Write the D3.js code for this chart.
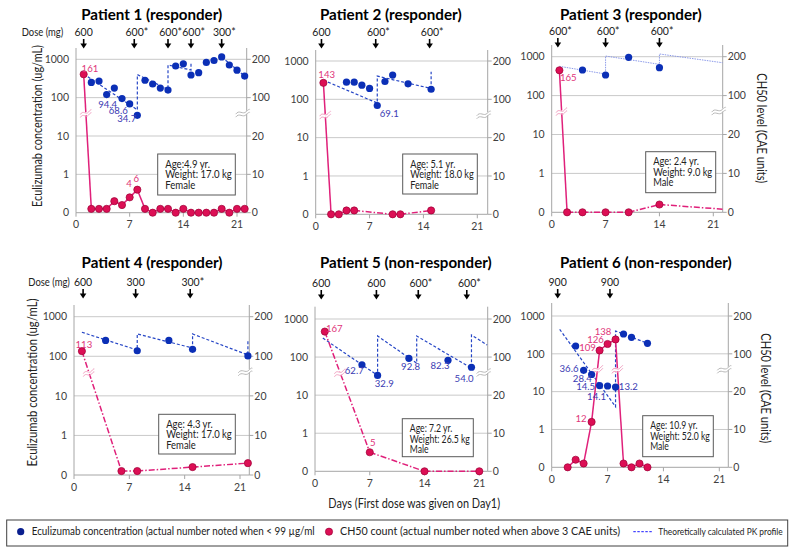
<!DOCTYPE html>
<html><head><meta charset="utf-8">
<script src="https://cdn.jsdelivr.net/npm/d3@7"></script>
<style>
body{margin:0;background:#fff;}
svg{display:block;font-family:Lato,"Liberation Sans",sans-serif;}
</style></head><body>
<svg id="chart" width="800" height="552"></svg>
<script>
// ================= DATA =================
const titles = ["Patient 1 (responder)","Patient 2 (responder)","Patient 3 (responder)",
                "Patient 4 (responder)","Patient 5 (non-responder)","Patient 6 (non-responder)"];
const leftTicks = [1000,100,10,1,0.1];
const leftTickLabels = ["1000","100","10","1","0"];
const rightTicks = [200,100,20,10,0];
const rightTickLabels = ["200","100","20","10","0"];
const xTicks = [0,7,14,21];

// Patient 1
const ecuDays1 = [2,3,4,5,6,7,8,9,10,11,12,13,14,15,16,17,18,19,20,21,22];
const ecuValues1 = [250,270,120,178,94.4,68.6,34.7,284,227,178,158,668,760,390,449,830,930,1150,710,520,365];
const chDays1 = [1,2,3,4,5,6,7,8,9,10,11,12,13,14,15,16,17,18,19,20,21,22];
const chValues1 = [161,1,1,1,3,2,4,6,1,0,1,1,0,1,0,0,0,0,1,0,1,1];
const pkDays1 = [1,8,8,12,12,15,15,null,19,22];
const pkValues1 = [414,48,400,165,710,526,815,null,1150,365];
const doseDays1 = [1,7.6,12,15,19];
const doseLabels1 = ["600","600*","600*","600*","300*"];
const info1 = ["Age:4.9 yr.","Weight: 17.0 kg","Female"];
const ecuLabelDays1 = [6,7,8];
const chLabelDays1 = [1,7,8];

// Patient 2
const ecuDays2 = [4,5,6,7,8,9,10,12,15];
const ecuValues2 = [280,280,234,192,69.1,292,428,254,183];
const chDays2 = [1,2,3,4,5,10,11,15];
const chValues2 = [143,0,0,1,1,0,0,1];
const pkDays2 = [1,8,8,15,15];
const pkValues2 = [316,80,403,192,524];
const doseDays2 = [0.75,7.8,14.8];
const doseLabels2 = ["600","600*","600*"];
const info2 = ["Age: 5.1 yr.","Weight: 18.0 kg","Female"];
const ecuLabelDays2 = [8];
const chLabelDays2 = [1];

// Patient 3
const ecuDays3 = [4,7,10,14];
const ecuValues3 = [455,339,966,523];
const chDays3 = [1,2,4,7,10,14];
const chValues3 = [165,0,0,0,0,2];
const chExtDays3 = [22.2];
const chExtValues3 = [0.8];
const pkDays3 = [1,7,7,14,14,22.2];
const pkValues3 = [566,359,1040,637,1175,700];
const doseDays3 = [0.8,7,14];
const doseLabels3 = ["600*","600*","600*"];
const info3 = ["Age: 2.4 yr.","Weight: 9.0 kg","Male"];
const ecuLabelDays3 = [];
const chLabelDays3 = [1];

// Patient 4
const ecuDays4 = [4,8,12,15,22];
const ecuValues4 = [252,138,252,150,102];
const chDays4 = [1,6,8,15,22];
const chValues4 = [113,1,1,2,3];
const pkDays4 = [1,8,8,15,15,22,22];
const pkValues4 = [404,144,366,162,366,108,257];
const doseDays4 = [1.15,7.8,14.7];
const doseLabels4 = ["600","300","300*"];
const info4 = ["Age: 4.3 yr.","Weight: 17.0 kg","Female"];
const ecuLabelDays4 = [];
const chLabelDays4 = [1];

// Patient 5
const ecuDays5 = [6,8,12,17,20];
const ecuValues5 = [62.7,32.9,92.8,82.3,54.0];
const chDays5 = [1.25,7,14,21];
const chValues5 = [167,5,0,0];
const pkDays5 = [1,8,8,13,13,20,20,22];
const pkValues5 = [316,33,358,69,358,51,380,208];
const doseDays5 = [0.8,7.85,13.2,19.4];
const doseLabels5 = ["600","600","600*","600*"];
const info5 = ["Age: 7.2 yr.","Weight: 26.5 kg","Male"];
const ecuLabelDays5 = [6,8,12,17,20];
const chLabelDays5 = [1.25,7];

// Patient 6
const ecuDays6 = [3,4,5,6,7,8,9,10,12];
const ecuValues6 = [161,36.6,28.4,14.5,14.1,13.2,334,273,190];
const chDays6 = [2,3,4,5,6,7,8,9,10,11,12];
const chValues6 = [0,2,1,12,109,126,138,1,0,1,0];
const pkDays6 = [1,8,8,12];
const pkValues6 = [445,4,401,190];
const doseDays6 = [0.75,7.3];
const doseLabels6 = ["900","900"];
const info6 = ["Age: 10.9 yr.","Weight: 52.0 kg","Male"];
const ecuLabelDays6 = [4,5,6,7,8];
const chLabelDays6 = [5,6,7,8];

const legendTexts = ["Eculizumab concentration (actual number noted when < 99 \u00b5g/ml",
  "CH50 count (actual number  noted when above 3 CAE units)",
  "Theoretically calculated PK profile"];
const yTitleLeft = "Eculizumab concentration (ug/mL)";
const yTitleRight = "CH50 level (CAE units)";
const xTitle = "Days (First dose was given on Day1)";
const doseTitle = "Dose (mg)";

// ================= LAYOUT =================
const panels = [
 {x0:76, x21:237, xr:246.7, yTop:48, y1000:59.3, yBot:212.7, doseY:36, tx:151.7, ty:19.5, tw:141,
  box:[157.7,154,77.6,41], ecuOff:[[-14.3,6.3],[-11.4,7],[-10.6,3.7]], chOff:[[6.3,-6],[-0.7,-13.4],[-1,-11]], doseMg:[21.7,41.6], leftTitle:[37.7,126,162]},
 {x0:315.7, x21:477.3, xr:487.7, yTop:50, y1000:61, yBot:214.3, doseY:36, tx:390.8, ty:19.5, tw:141.7,
  box:[402.7,154,74.6,40], ecuOff:[[12,8]], chOff:[[3.3,-8.5]]},
 {x0:551.7, x21:713.3, xr:722.7, yTop:45, y1000:56.7, yBot:212.3, doseY:35, tx:630.8, ty:19.5, tw:141.7,
  box:[645.7,151.7,70,41], ecuOff:[], chOff:[[8.9,7]], rightTitle:[762,128.3,110]},
 {x0:74, x21:240, xr:249.3, yTop:305, y1000:316.7, yBot:475, doseY:286, tx:152, ty:267.5, tw:141,
  box:[158.7,414.3,76.6,39.7], ecuOff:[], chOff:[[2,-6]], doseMg:[28.3,41.6], leftTitle:[32.3,382.5,168]},
 {x0:315, x21:479.3, xr:487.7, yTop:306.7, y1000:319, yBot:471.3, doseY:287, tx:405.8, ty:267.5, tw:171.7,
  box:[402.3,418.7,71,38], ecuOff:[[-7.7,6.2],[6.7,8.5],[1.7,8],[-8,5],[-7.4,11.7]], chOff:[[9.5,-2.5],[3,-9.6]], xTitle:[414.2,503.3,171.7]},
 {x0:551.7, x21:719.3, xr:728.3, yTop:303, y1000:316, yBot:467.3, doseY:286, tx:645.8, ty:267.5, tw:171.7,
  box:[642.7,415.7,70.6,41], ecuOff:[[-14.6,-1.3],[-9.3,3.8],[-13.9,1.5],[-11,11],[12.8,0]], chOff:[[-10.5,-3],[-12,-2.6],[-12,-4.5],[-12.5,-8]], rightTitle:[766,388.3,110]}
];

const data = [
 {ecuD:ecuDays1,ecuV:ecuValues1,chD:chDays1,chV:chValues1,pkD:pkDays1,pkV:pkValues1,dD:doseDays1,dL:doseLabels1,info:info1,eL:ecuLabelDays1,cL:chLabelDays1},
 {ecuD:ecuDays2,ecuV:ecuValues2,chD:chDays2,chV:chValues2,pkD:pkDays2,pkV:pkValues2,dD:doseDays2,dL:doseLabels2,info:info2,eL:ecuLabelDays2,cL:chLabelDays2},
 {ecuD:ecuDays3,ecuV:ecuValues3,chD:chDays3,chV:chValues3,pkD:pkDays3,pkV:pkValues3,dD:doseDays3,dL:doseLabels3,info:info3,eL:ecuLabelDays3,cL:chLabelDays3,extD:chExtDays3,extV:chExtValues3,thinPk:true},
 {ecuD:ecuDays4,ecuV:ecuValues4,chD:chDays4,chV:chValues4,pkD:pkDays4,pkV:pkValues4,dD:doseDays4,dL:doseLabels4,info:info4,eL:ecuLabelDays4,cL:chLabelDays4},
 {ecuD:ecuDays5,ecuV:ecuValues5,chD:chDays5,chV:chValues5,pkD:pkDays5,pkV:pkValues5,dD:doseDays5,dL:doseLabels5,info:info5,eL:ecuLabelDays5,cL:chLabelDays5},
 {ecuD:ecuDays6,ecuV:ecuValues6,chD:chDays6,chV:chValues6,pkD:pkDays6,pkV:pkValues6,dD:doseDays6,dL:doseLabels6,info:info6,eL:ecuLabelDays6,cL:chLabelDays6}
];

// ================= STYLE =================
const C = {grid:"#c9c9c9", axis:"#a6a6a6", tick:"#404040", blue:"#0b2fb6", blueLab:"#3b3bb3",
  pk:"#2646c6", pink:"#e0207a", pinkDot:"#dc0f55", pinkStroke:"#9e0036", pinkLab:"#e0357a",
  brkPink:"#f2a2c2", brkGray:"#b8b8b8", text:"#222"};

const svg = d3.select("#chart");
svg.append("rect").attr("width",800).attr("height",552).attr("fill","#fff");

function fit(sel, w){
  const L = sel.node().getComputedTextLength();
  if (Math.abs(L - w) / w > 0.015) sel.attr("textLength", w).attr("lengthAdjust","spacingAndGlyphs");
  return sel;
}
// shrink font so natural width is close to target, then fit exactly
function fitSize(sel, w, base){
  const L = sel.node().getComputedTextLength();
  if (L > w * 1.06) sel.attr("font-size", base * w * 1.06 / L);
  return fit(sel, w);
}
function tilde(g, cx, cy, w, color, sw){
  const h = w/2;
  const p = (dy) => `M${cx-h},${cy+dy+1.5} C${cx-h/2},${cy+dy-3.5} ${cx},${cy+dy+2.5} ${cx+h/2},${cy+dy-1} S${cx+h},${cy+dy-3}, ${cx+h},${cy+dy-3}`;
  g.append("path").attr("d", `M${cx-h},${cy+1.5} L${cx+h},${cy-3} L${cx+h},${cy} L${cx-h},${cy+4.5}Z`).attr("fill","#fff");
  g.append("path").attr("d", p(0)).attr("fill","none").attr("stroke",color).attr("stroke-width",sw);
  g.append("path").attr("d", p(3)).attr("fill","none").attr("stroke",color).attr("stroke-width",sw);
}

panels.forEach((P, i) => {
  const D = data[i];
  const g = svg.append("g");
  const x = d3.scaleLinear().domain([0,21]).range([P.x0, P.x21]);
  const yE = d3.scaleLog().domain([0.1,1000]).range([P.yBot, P.y1000]);
  const cLo = d3.scaleLinear().domain([0,20]).range([P.yBot, yE(10)]);
  const cMid = d3.scaleLinear().domain([20,100]).range([yE(10), yE(100)]);
  const cHi = d3.scaleLinear().domain([100,200]).range([yE(100), P.y1000]);
  const yC = v => v <= 20 ? cLo(v) : (v < 100 ? cMid(v) : cHi(v));

  // title
  fit(g.append("text").attr("x",P.tx).attr("y",P.ty).attr("text-anchor","middle")
    .attr("font-size",15.5).attr("font-weight","bold").attr("fill","#000").text(titles[i]), P.tw);

  // gridlines
  g.selectAll(".grid").data(leftTicks.filter(t => t >= 1)).enter().append("line")
    .attr("x1",P.x0).attr("x2",P.xr).attr("y1",d=>yE(d)).attr("y2",d=>yE(d))
    .attr("stroke",C.grid).attr("stroke-width",1);
  // axes
  g.append("line").attr("x1",P.x0).attr("x2",P.xr).attr("y1",P.yBot).attr("y2",P.yBot).attr("stroke",C.axis);
  g.append("line").attr("x1",P.x0).attr("x2",P.x0).attr("y1",P.yTop).attr("y2",P.yBot).attr("stroke",C.axis);
  g.append("line").attr("x1",P.xr).attr("x2",P.xr).attr("y1",P.yTop).attr("y2",P.yBot).attr("stroke",C.axis);
  g.selectAll(".rt").data(rightTicks).enter().append("line")
    .attr("x1",P.xr).attr("x2",P.xr+4).attr("y1",d=>yC(d)).attr("y2",d=>yC(d)).attr("stroke",C.axis);
  g.selectAll(".xt").data(xTicks).enter().append("line")
    .attr("x1",d=>x(d)).attr("x2",d=>x(d)).attr("y1",P.yBot).attr("y2",P.yBot+4).attr("stroke",C.axis);

  // tick labels
  g.selectAll(".ll").data(leftTicks).enter().append("text")
    .attr("x",P.x0-7).attr("y",d=>yE(d)).attr("dy","0.35em").attr("text-anchor","end")
    .attr("font-size",10.5).attr("fill",C.tick).text((d,k)=>leftTickLabels[k]);
  g.selectAll(".rl").data(rightTicks).enter().append("text")
    .attr("x",P.xr+5).attr("y",d=>yC(d)).attr("dy","0.35em").attr("text-anchor","start")
    .attr("font-size",10.5).attr("fill",C.tick).text((d,k)=>rightTickLabels[k]);
  g.selectAll(".xl").data(xTicks).enter().append("text")
    .attr("x",d=>x(d)).attr("y",P.yBot+12).attr("dy","0.35em").attr("text-anchor","middle")
    .attr("font-size",10.5).attr("fill",C.tick).text(d=>d);

  // right axis break
  tilde(g, P.xr-4, yE(100)+15, 14, C.brkGray, 1);

  // dose arrows
  D.dD.forEach((d,k) => {
    const ax = x(d);
    const lab = D.dL[k];
    g.append("text").attr("x", ax + (lab.endsWith("*") ? 2.6 : 0)).attr("y",P.doseY)
      .attr("text-anchor","middle").attr("font-size",10.5).attr("fill",C.text).text(lab);
    g.append("line").attr("x1",ax).attr("x2",ax).attr("y1",P.doseY+3).attr("y2",P.doseY+8)
      .attr("stroke","#000").attr("stroke-width",1.6);
    g.append("path").attr("d",`M${ax-3.3},${P.doseY+7.5} L${ax+3.3},${P.doseY+7.5} L${ax},${P.doseY+12.5}Z`).attr("fill","#000");
  });
  if (P.doseMg) fit(g.append("text").attr("x",P.doseMg[0]).attr("y",P.doseY).attr("font-size",10.5).attr("fill",C.text).text(doseTitle), P.doseMg[1]);

  // axis titles
  if (P.leftTitle) fit(g.append("text").attr("transform",`translate(${P.leftTitle[0]},${P.leftTitle[1]}) rotate(-90)`)
    .attr("text-anchor","middle").attr("dy","0.35em").attr("font-size",13).attr("fill",C.text).text(yTitleLeft), P.leftTitle[2]);
  if (P.rightTitle) fit(g.append("text").attr("transform",`translate(${P.rightTitle[0]},${P.rightTitle[1]}) rotate(90)`)
    .attr("text-anchor","middle").attr("dy","0.35em").attr("font-size",13).attr("fill",C.text).text(yTitleRight), P.rightTitle[2]);
  if (P.xTitle) fit(g.append("text").attr("x",P.xTitle[0]).attr("y",P.xTitle[1]).attr("dy","0.35em")
    .attr("text-anchor","middle").attr("font-size",13).attr("fill",C.text).text(xTitle), P.xTitle[2]);

  // PK line
  const pk = D.pkD.map((d,k)=>({d, v:D.pkV[k]}));
  const pkLine = d3.line().defined(p=>p.d!=null).x(p=>x(p.d)).y(p=>yE(p.v));
  g.append("path").attr("d",pkLine(pk)).attr("fill","none")
    .attr("stroke", D.thinPk ? "#7f8fe6" : C.pk).attr("stroke-width", D.thinPk ? 0.9 : 1.2)
    .attr("stroke-dasharray", D.thinPk ? "1.5,1" : "3,2");

  // CH50 line segments
  const ch = D.chD.map((d,k)=>({d, v:D.chV[k]}));
  const chAll = D.extD ? ch.concat(D.extD.map((d,k)=>({d, v:D.extV[k]}))) : ch;
  const breaks = [];
  for (let k=0; k<chAll.length-1; k++){
    const a = chAll[k], b = chAll[k+1];
    const solid = (b.d - a.d) <= 1.01 && !(D.extD && k >= ch.length-1);
    g.append("line").attr("x1",x(a.d)).attr("y1",yC(a.v)).attr("x2",x(b.d)).attr("y2",yC(b.v))
      .attr("stroke",C.pink).attr("stroke-width",1.5)
      .attr("stroke-dasharray", solid ? null : "6,2,1.5,2");
    if ((a.v >= 100 && b.v <= 20) || (a.v <= 20 && b.v >= 100)){
      const yb = yE(100) + 0.4*(yE(10)-yE(100));
      const t = (yb - yC(a.v)) / (yC(b.v) - yC(a.v));
      breaks.push([x(a.d) + t*(x(b.d)-x(a.d)), yb]);
    }
  }
  breaks.forEach(b => tilde(g, b[0], b[1], 11, C.brkPink, 1));

  // dots
  const ecu = D.ecuD.map((d,k)=>({d, v:D.ecuV[k]}));
  g.selectAll(".ed").data(ecu).enter().append("circle")
    .attr("cx",p=>x(p.d)).attr("cy",p=>yE(p.v)).attr("r",3.6).attr("fill",C.blue);
  g.selectAll(".cd").data(ch).enter().append("circle")
    .attr("cx",p=>x(p.d)).attr("cy",p=>yC(p.v)).attr("r",3.6)
    .attr("fill",C.pinkDot).attr("stroke",C.pinkStroke).attr("stroke-width",0.7);

  // value labels
  D.eL.forEach((d,k) => {
    const p = ecu.find(q=>q.d===d);
    g.append("text").attr("x",x(p.d)+P.ecuOff[k][0]).attr("y",yE(p.v)+P.ecuOff[k][1]).attr("dy","0.35em")
      .attr("text-anchor","middle").attr("font-size",9.6).attr("fill",C.blueLab).text(d3.format(".1f")(p.v));
  });
  D.cL.forEach((d,k) => {
    const p = ch.find(q=>q.d===d);
    g.append("text").attr("x",x(p.d)+P.chOff[k][0]).attr("y",yC(p.v)+P.chOff[k][1]).attr("dy","0.35em")
      .attr("text-anchor","middle").attr("font-size",9.6).attr("fill",C.pinkLab).text(d3.format("d")(p.v));
  });

  // info box
  const [bl,bt,bw,bh] = P.box;
  g.append("rect").attr("x",bl).attr("y",bt).attr("width",bw).attr("height",bh)
    .attr("fill","#fff").attr("stroke","#595959").attr("stroke-width",1);
  const lines = D.info.map((t,k) => g.append("text").attr("x",bl+7.5).attr("y",bt+10+k*10.5).attr("dy","0.35em")
      .attr("font-size",10.5).attr("fill",C.text).text(t));
  const widths = lines.map(s => s.node().getComputedTextLength());
  const maxW = d3.max(widths);
  const r = Math.min(1, (bw - 11) / maxW);
  if (r < 1) lines.forEach((s,k) => s.attr("textLength", widths[k]*r).attr("lengthAdjust","spacingAndGlyphs"));
});

// ================= LEGEND =================
const lg = svg.append("g");
lg.append("rect").attr("x",6.7).attr("y",520).attr("width",781).attr("height",26)
  .attr("fill","#fff").attr("stroke","#404040").attr("stroke-width",1);
lg.append("circle").attr("cx",20.7).attr("cy",531.7).attr("r",3.6).attr("fill","#0a1f8f");
fitSize(lg.append("text").attr("x",31.7).attr("y",531.7).attr("dy","0.35em").attr("font-size",10.5).attr("fill",C.text).text(legendTexts[0]), 283, 10.5);
lg.append("circle").attr("cx",329).attr("cy",531.7).attr("r",3.6).attr("fill",C.pinkDot).attr("stroke",C.pinkStroke).attr("stroke-width",0.7);
fitSize(lg.append("text").attr("x",340).attr("y",531.7).attr("dy","0.35em").attr("font-size",10.5).attr("fill",C.text).text(legendTexts[1]), 280, 10.5);
lg.append("line").attr("x1",633.3).attr("x2",653.3).attr("y1",531.7).attr("y2",531.7)
  .attr("stroke","#1a1aff").attr("stroke-width",1).attr("stroke-dasharray","2.5,1.5");
fitSize(lg.append("text").attr("x",658.3).attr("y",531.7).attr("dy","0.35em").attr("font-size",10.5).attr("fill",C.text).text(legendTexts[2]), 124.4, 10.5);
</script>
</body></html>
